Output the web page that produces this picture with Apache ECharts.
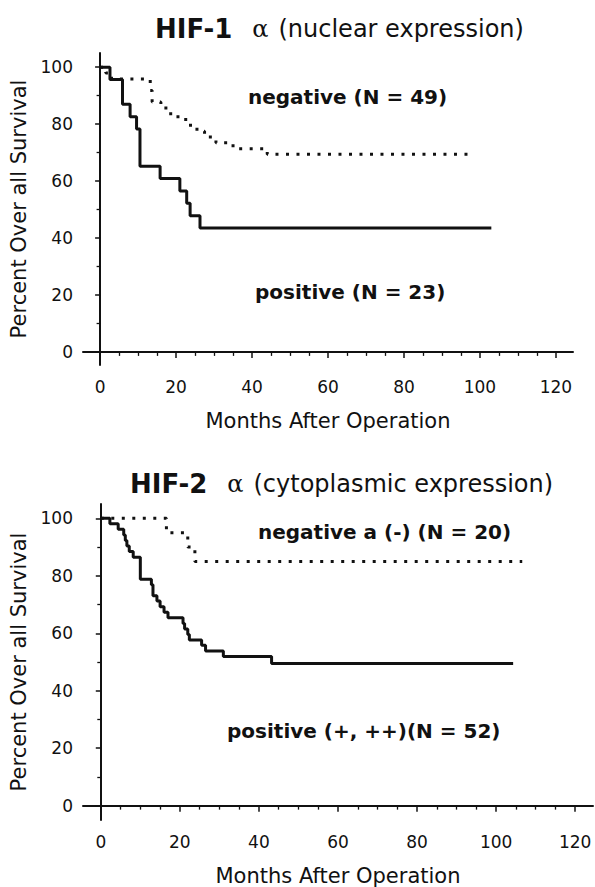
<!DOCTYPE html>
<html>
<head>
<meta charset="utf-8">
<script src="https://cdn.jsdelivr.net/npm/echarts@6/dist/echarts.min.js"></script>
<style>
  html, body { margin: 0; padding: 0; background: #fff; }
  #chart { width: 595px; height: 887px; }
</style>
</head>
<body>
<div id="chart"></div>
<script>
// --- data (months after operation, percent surviving) ---
var hif1Negative = [[0,100],[1.5,98.0],[3,95.9],[13.2,91.8],[13.7,87.8],[16,85.7],[18,83.7],[20.5,81.6],[23,79.6],[25.5,77.5],[27.5,75.5],[30.5,73.5],[35,71.4],[44,69.4],[97,69.4]];
var hif1Positive = [[0,100],[2.6,95.7],[5.9,87.0],[7.9,82.6],[9.6,78.3],[10.5,65.2],[15.8,60.9],[21,56.5],[22.8,52.2],[23.7,47.8],[26.3,43.5],[103,43.5]];
var hif2Negative = [[0,100],[16.6,95],[22,90],[23.8,85],[106.6,85]];
var hif2Positive = [[0,100],[2.3,98.1],[4.4,96.2],[5.8,94.2],[6.2,92.3],[6.6,90.4],[7.2,88.5],[8.2,86.5],[10,78.8],[12.8,76.9],[13.2,73.1],[14.2,71.2],[15,69.2],[16,67.3],[17,65.4],[20.8,63.4],[21.2,61.5],[22,59.6],[22.4,57.7],[25.5,55.8],[26.5,53.8],[31,51.9],[43.2,49.5],[104.3,49.5]];

var xMajor = [0, 20, 40, 60, 80, 100, 120];
var xMinor = [5, 10, 15, 25, 30, 35, 45, 50, 55, 65, 70, 75, 85, 90, 95, 105, 110, 115];
var yMajor = [0, 20, 40, 60, 80, 100];
var yMinor = [10, 30, 50, 70, 90];

var ink = '#111';
var sans = '"DejaVu Sans", Verdana, sans-serif';
var serif = '"DejaVu Serif", "Liberation Serif", serif';

function xAxes(grid) {
  return [
    {
      gridIndex: grid, type: 'value', position: 'bottom', min: -4.5, max: 124.5,
      name: 'Months After Operation', nameLocation: 'middle', nameGap: 45,
      nameTextStyle: { color: ink, fontSize: 21, fontFamily: sans },
      axisLine: { lineStyle: { color: ink, width: 2 } },
      axisTick: { length: 6, customValues: xMajor, lineStyle: { color: ink, width: 1.5 } },
      axisLabel: { customValues: xMajor, color: ink, fontSize: 17, fontFamily: sans, margin: 13 },
      splitLine: { show: false }
    },
    {
      gridIndex: grid, type: 'value', position: 'bottom', min: -4.5, max: 124.5,
      axisLine: { show: false },
      axisTick: { length: 4, customValues: xMinor, lineStyle: { color: ink, width: 1.3 } },
      axisLabel: { show: false },
      splitLine: { show: false }
    }
  ];
}

function yAxes(grid, min, max) {
  return [
    {
      gridIndex: grid, type: 'value', position: 'left', min: min, max: max,
      name: 'Percent Over all Survival', nameLocation: 'middle', nameGap: 50,
      nameTextStyle: { color: ink, fontSize: 21, fontFamily: sans },
      axisLine: { show: true, lineStyle: { color: ink, width: 2 } },
      axisTick: { show: true, length: 5, customValues: yMajor, lineStyle: { color: ink, width: 1.5 } },
      axisLabel: { customValues: yMajor, color: ink, fontSize: 17, fontFamily: sans, margin: 10 },
      splitLine: { show: false }
    },
    {
      gridIndex: grid, type: 'value', position: 'left', min: min, max: max,
      axisLine: { show: false },
      axisTick: { show: true, length: 3.5, customValues: yMinor, lineStyle: { color: ink, width: 1.3 } },
      axisLabel: { show: false },
      splitLine: { show: false }
    }
  ];
}

function curve(name, data, xi, yi, dotted) {
  return {
    name: name, type: 'line', step: 'end', data: data,
    xAxisIndex: xi, yAxisIndex: yi, showSymbol: false, silent: true,
    lineStyle: dotted
      ? { color: ink, width: 3, type: [3, 7.5], cap: 'butt' }
      : { color: ink, width: 3 }
  };
}

function heading(left, top, gene, rest) {
  return {
    left: left, top: top,
    text: '{g|' + gene + '}{a|α}{r|' + rest + '}',
    textStyle: {
      rich: {
        g: { fontSize: 26, fontWeight: 'bold', color: ink, fontFamily: sans },
        a: { fontSize: 24, fontWeight: 'normal', color: ink, fontFamily: serif, padding: [0, 10, 0, 20] },
        r: { fontSize: 24, fontWeight: 'normal', color: ink, fontFamily: sans }
      }
    }
  };
}

function tag(left, top, text) {
  return {
    left: left, top: top, text: text,
    textStyle: { fontSize: 20, fontWeight: 'bold', color: ink, fontFamily: sans }
  };
}

var chart = echarts.init(document.getElementById('chart'), null, { renderer: 'svg' });
chart.setOption({
  animation: false,
  backgroundColor: '#fff',
  title: [
    heading(150, 11, 'HIF-1', '(nuclear expression)'),
    tag(243, 82, 'negative (N = 49)'),
    tag(250, 277, 'positive (N = 23)'),
    heading(125, 466, 'HIF-2', '(cytoplasmic expression)'),
    tag(253, 517, 'negative a (-) (N = 20)'),
    tag(222, 716, 'positive (+, ++)(N = 52)')
  ],
  grid: [
    { left: 83, top: 53, width: 490, height: 312 },
    { left: 83, top: 504, width: 510, height: 317 }
  ],
  xAxis: xAxes(0).concat(xAxes(1)),
  yAxis: yAxes(0, -4.6, 105).concat(yAxes(1, -5, 105)),
  series: [
    curve('HIF-1 negative', hif1Negative, 0, 0, true),
    curve('HIF-1 positive', hif1Positive, 0, 0, false),
    curve('HIF-2 negative', hif2Negative, 2, 2, true),
    curve('HIF-2 positive', hif2Positive, 2, 2, false)
  ]
});
window.addEventListener('resize', function() { chart.resize(); });
</script>
</body>
</html>
